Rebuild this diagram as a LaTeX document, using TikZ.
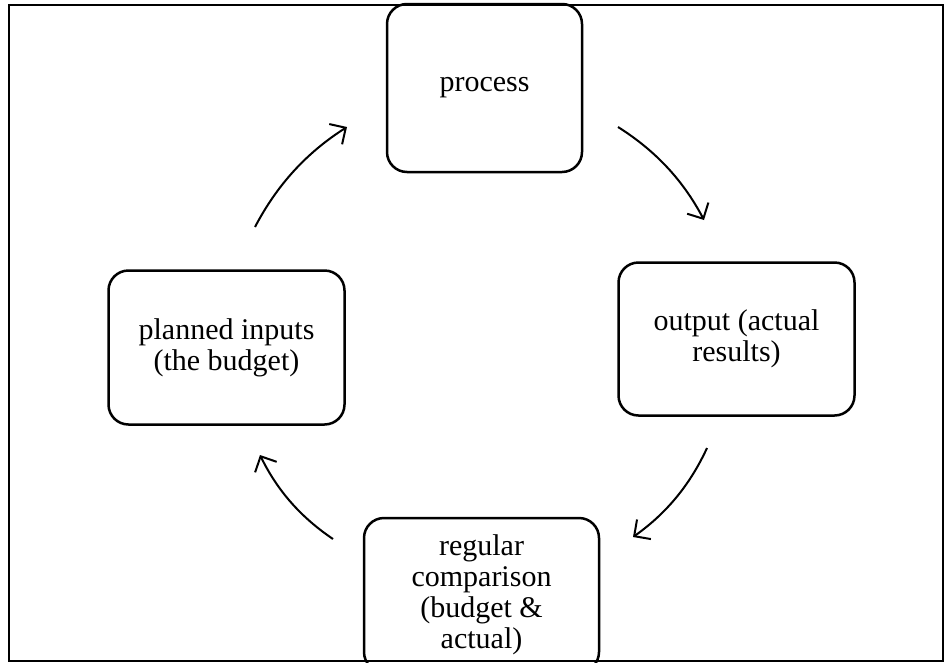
\documentclass[tikz,border=0pt]{standalone}
\usepackage{fontspec}
\setmainfont{Liberation Serif}
\usepackage{tikz}
\usetikzlibrary{arrows.meta,positioning}
\tikzstyle{stage} = [draw=black, line width=2.5pt, rounded corners=20pt, text=black, align=center, inner sep=0pt, font=\fontsize{30pt}{31pt}\selectfont]
\tikzstyle{cedge} = [draw, line width=2pt, -{Straight Barb[length=12pt,width=24pt]}, bend left=15, looseness=0.9]

\begin{document}
\begin{tikzpicture}[x=1pt, y=-1pt]
\useasboundingbox (0,0) rectangle (944,662);

% frame
\draw[line width=2pt] (9,4.5) rectangle (942.5,660.5);

% stages ==================================
\node[stage, minimum width=195pt, minimum height=168pt] (process) at (484.5,88) {process};
\node[stage, minimum width=236pt, minimum height=153pt, below right=88pt and 34pt of process] (output) {output (actual\\results)};
\node[stage, minimum width=236pt, minimum height=154pt, below left=96pt and 40pt of process] (planned) {planned inputs\\(the budget)};
\node[stage, minimum width=235pt, minimum height=154pt, below right=91pt and 17pt of planned] (compare) {regular\\comparison\\(budget \&\\actual)};

% arrow ends
\coordinate (s1) at (255,227);
\coordinate (e1) at (347,127);
\coordinate (s2) at (618,127);
\coordinate (e2) at (704,220);
\coordinate (s3) at (707,448);
\coordinate (e3) at (633,537);
\coordinate (s4) at (333,539);
\coordinate (e4) at (260,455);

%edges
\path[cedge] (s1) to (e1);
\path[cedge] (s2) to (e2);
\path[cedge] (s3) to (e3);
\path[cedge] (s4) to (e4);

\end{tikzpicture}
\end{document}
